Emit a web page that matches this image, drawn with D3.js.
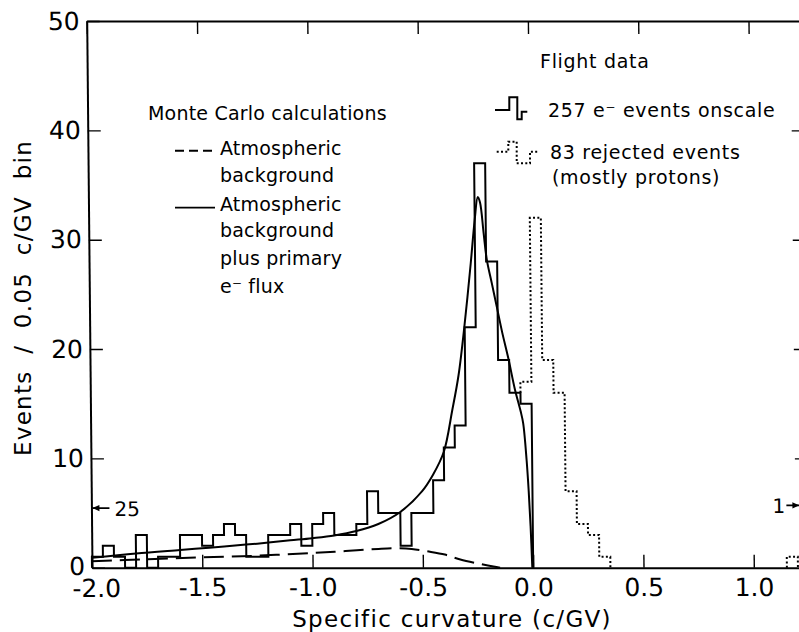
<!DOCTYPE html>
<html><head><meta charset="utf-8">
<script src="https://cdn.jsdelivr.net/npm/d3@7"></script>
<style>
body{margin:0;background:#fff;}
svg{display:block;background:#fff;}
text{font-family:"DejaVu Sans",sans-serif;fill:#000;}
</style></head><body>
<svg id="chart" width="799" height="632"></svg>
<script>
// ---------------- data ----------------
const binWidth = 0.05;
const eBinStart = -2.0;                       // flight e- events, 0.05 c/GV bins from -2.0 to 0.0
const eCounts = [1,2,1,0,3,0,1,1,3,3,2,3,4,3,1,1,3,3,4,2,4,5,3,3,4,7,5,5,2,5,5,8,11,13,22,37,28,19,16,15];
const rejBinStart = -0.05;                    // rejected events (dotted)
const rejCounts = [17,32,19,16,7,4,3,1];
const rejFarBinStart = 1.15;
const rejFarCounts = [1];
// Monte Carlo: atmospheric background plus primary e- flux (solid)
const mcTotalX = [-2.0,-1.8,-1.6,-1.5,-1.4,-1.25,-1.1,-1.0,-0.9,-0.8,-0.7,-0.6,-0.5,-0.45,-0.4,-0.36,-0.33,-0.3,-0.27,-0.25,-0.235,-0.225,-0.21,-0.197,-0.175,-0.154,-0.13,-0.104,-0.075,-0.05,-0.039,-0.025,-0.017,-0.01,-0.004];
const mcTotalY = [0.9,1.3,1.62,1.78,1.95,2.2,2.5,2.7,2.95,3.35,4.0,5.1,7.0,8.5,10.6,14.4,17.6,22.3,27.8,31.8,33.9,33.4,30.6,28.2,26.0,23.9,21.5,19.2,16.3,14.3,13.2,9.8,7.0,3.8,0];
// Monte Carlo: atmospheric background (dashed)
const mcBgX = [-2.0,-1.75,-1.5,-1.25,-1.0,-0.85,-0.7,-0.62,-0.55,-0.48,-0.4,-0.33,-0.25,-0.18,-0.15];
const mcBgY = [0.6,0.78,0.95,1.1,1.35,1.52,1.72,1.78,1.72,1.5,1.2,0.75,0.38,0.1,0];
const xTicks = [-2.0,-1.5,-1.0,-0.5,0.0,0.5,1.0];
const xTickLabels = ["-2.0","-1.5","-1.0","-0.5","0.0","0.5","1.0"];
const yTicks = [0,10,20,30,40,50];
const yInnerTicks = [10,20,30,40];
const xFrame = [-2.0, 1.25];
const yFrame = [0, 50];
const leftOffscale = {count:"25", level:5.45};
const rightOffscale = {count:"1", level:5.7};

// ---------------- layout ----------------
const svg = d3.select("#chart");
const x = d3.scaleLinear().domain(xFrame).range([92, 92 + 3.25*220.6]);
const y = d3.scaleLinear().domain(yFrame).range([567.7, 21]);
const y0 = y(0);
const shearDeg = 0.556;

const g = svg.append("g")
  .attr("transform", `translate(0,${y0}) skewX(${shearDeg}) translate(0,${-y0})`);

// axes / frame
const tickLen = 13;
const axBottom = g.append("g").attr("transform", `translate(0,${y0})`)
  .call(d3.axisBottom(x).tickValues(xTicks).tickSizeInner(-tickLen).tickSizeOuter(0).tickPadding(11)
    .tickFormat((d,i)=>xTickLabels[i]));
const axTop = g.append("g").attr("transform", `translate(0,${y(50)})`)
  .call(d3.axisTop(x).tickValues(xTicks).tickSizeInner(-tickLen).tickSizeOuter(0).tickFormat(""));
const axLeft = g.append("g").attr("transform", `translate(${x(-2)},0)`)
  .call(d3.axisLeft(y).tickValues(yTicks).tickSizeInner(-tickLen).tickSizeOuter(0).tickPadding(7)
    .tickFormat(d3.format("d")));
const axRight = g.append("g").attr("transform", `translate(${x(1.25)},0)`)
  .call(d3.axisRight(y).tickValues(yInnerTicks).tickSizeInner(-tickLen).tickSizeOuter(0).tickFormat(""));

[axBottom, axTop, axLeft, axRight].forEach(a => {
  a.select(".domain").attr("stroke","#000").attr("stroke-width",2);
  a.selectAll(".tick line").attr("stroke","#000").attr("stroke-width",1.4);
  a.selectAll(".tick text").attr("font-family","DejaVu Sans").attr("font-size",25).attr("fill","#000");
});
// first x label sits a little right of the corner, as in the original
axBottom.selectAll(".tick text").filter(d => d === xFrame[0]).attr("dx", 4).attr("dy", "0.75em");
axLeft.selectAll(".tick text").filter(d => d === 0).attr("dy", "0.26em");

// histogram helpers
function stepPoints(start, counts, baseStart) {
  const pts = [[start, baseStart]];
  counts.forEach((c,i) => pts.push([start + i*binWidth, c]));
  pts.push([start + counts.length*binWidth, 0]);
  return pts;
}
const stepLine = d3.line().x(d=>x(d[0])).y(d=>y(d[1])).curve(d3.curveStepAfter);

// flight e- histogram (solid)
g.append("path").attr("d", stepLine(stepPoints(eBinStart, eCounts, 0)))
  .attr("fill","none").attr("stroke","#000").attr("stroke-width",2);

// rejected events (dotted) – starts from the e- bin just left of it
const prevIdx = Math.round((rejBinStart - binWidth - eBinStart)/binWidth);
g.append("path").attr("d", stepLine(stepPoints(rejBinStart, rejCounts, eCounts[prevIdx])))
  .attr("fill","none").attr("stroke","#000").attr("stroke-width",2).attr("stroke-dasharray","2,2.3");
g.append("path").attr("d", stepLine(stepPoints(rejFarBinStart, rejFarCounts, 0)))
  .attr("fill","none").attr("stroke","#000").attr("stroke-width",2).attr("stroke-dasharray","2,2.3");

// Monte Carlo curves
const curve = d3.line().x(d=>x(d[0])).y(d=>y(d[1])).curve(d3.curveCatmullRom.alpha(0.5));
g.append("path").attr("d", curve(mcBgX.map((v,i)=>[v, mcBgY[i]])))
  .attr("fill","none").attr("stroke","#000").attr("stroke-width",2).attr("stroke-dasharray","20,8");
g.append("path").attr("d", curve(mcTotalX.map((v,i)=>[v, mcTotalY[i]])))
  .attr("fill","none").attr("stroke","#000").attr("stroke-width",2);

// off-scale annotations
function arrow(x1, x2, yy, dir) {
  g.append("line").attr("x1",x1).attr("x2",x2).attr("y1",yy).attr("y2",yy)
    .attr("stroke","#000").attr("stroke-width",1.6);
  const tip = dir < 0 ? x1 : x2;
  const base = tip - dir*7;
  g.append("path").attr("d",`M${tip},${yy}L${base},${yy-3.2}L${base},${yy+3.2}Z`).attr("fill","#000");
}
const ly = y(leftOffscale.level);
arrow(x(-2)+1, x(-2)+18, ly, -1);
g.append("text").attr("x", x(-2)+23).attr("y", ly+7.5).attr("font-size",20).text(leftOffscale.count);
const ry = y(rightOffscale.level);
arrow(787, 800, ry, 1);
g.append("text").attr("x", 773).attr("y", ry+8).attr("font-size",20).text(rightOffscale.count);

// ---------------- titles ----------------
svg.append("text").attr("x",452).attr("y",626.5).attr("text-anchor","middle")
  .attr("font-size",23).attr("letter-spacing",1.3).text("Specific curvature (c/GV)");
svg.append("text").attr("transform","translate(31,298) rotate(-90)").attr("text-anchor","middle")
  .attr("font-size",23).attr("letter-spacing",1.3).attr("word-spacing",8).text("Events / 0.05 c/GV bin");

// ---------------- Monte Carlo legend ----------------
const leg = svg.append("g").attr("font-size",19).attr("letter-spacing",0.2);
leg.append("text").attr("x",148).attr("y",120).text("Monte Carlo calculations");
leg.append("line").attr("x1",175).attr("x2",213).attr("y1",150.7).attr("y2",150.7)
  .attr("stroke","#000").attr("stroke-width",2).attr("stroke-dasharray","9,5");
leg.append("text").attr("x",220).attr("y",155).text("Atmospheric");
leg.append("text").attr("x",220).attr("y",181.7).text("background");
leg.append("line").attr("x1",175).attr("x2",215).attr("y1",207.7).attr("y2",207.7)
  .attr("stroke","#000").attr("stroke-width",1.8);
leg.append("text").attr("x",220).attr("y",210.7).text("Atmospheric");
leg.append("text").attr("x",220).attr("y",237.3).text("background");
leg.append("text").attr("x",220).attr("y",265).text("plus primary");
leg.append("text").attr("x",220).attr("y",292.7).text("e⁻ flux");

// ---------------- Flight data legend ----------------
const fl = svg.append("g").attr("font-size",19).attr("letter-spacing",0.7);
fl.append("text").attr("x",540).attr("y",68.3).text("Flight data");
fl.append("path").attr("d","M495,110H509.3V97.3H517.3V119.3H521.7V111.7H527.3")
  .attr("fill","none").attr("stroke","#000").attr("stroke-width",2);
fl.append("text").attr("x",548).attr("y",116.7).text("257 e⁻ events onscale");
fl.append("path").attr("d","M496.7,151.7H508.3V141.7H516.7V163.3H530V151.7H539")
  .attr("fill","none").attr("stroke","#000").attr("stroke-width",2).attr("stroke-dasharray","2,2.3");
fl.append("text").attr("x",550).attr("y",159).text("83 rejected events");
fl.append("text").attr("x",552).attr("y",184).text("(mostly protons)");
</script>
</body></html>
